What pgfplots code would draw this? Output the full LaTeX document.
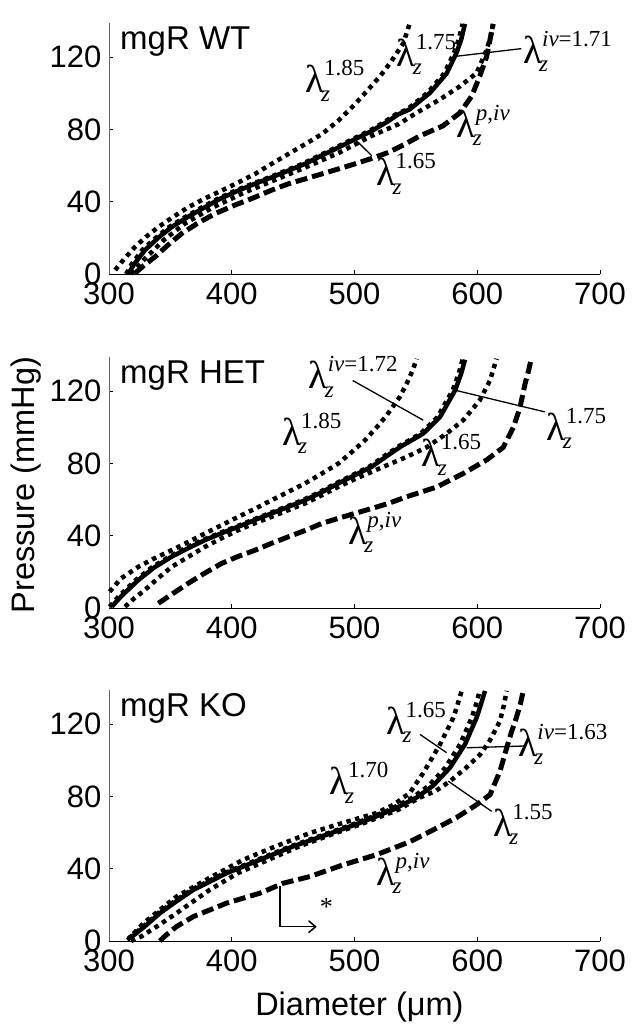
\documentclass[border=0pt]{standalone}
\usepackage{fontspec}
\setmainfont{Liberation Sans}
\newfontfamily\tnr{Liberation Serif}
\usepackage{pgfplots}
\pgfplotsset{compat=1.18}
\usetikzlibrary{arrows.meta}
\newcommand{\lz}[1]{{\tnr\fontsize{39}{39}\selectfont λ\kern-3pt\rlap{\raisebox{-8.5pt}{\fontsize{23}{23}\selectfont\itshape z}}\kern3pt\raisebox{17pt}{\fontsize{23}{23}\selectfont #1}}}
\tikzset{
  solidc/.style={black, line width=4.5pt, line join=round},
  dotc/.style={black, line width=4.5pt, dash pattern=on 4.5pt off 4.5pt},
  dashc/.style={black, line width=5pt, dash pattern=on 12pt off 5pt},
  ptr/.style={black, line width=1.3pt},
}
\pgfplotsset{
  panel/.style={
    scale only axis, width=491pt, height=251pt,
    xmin=300, xmax=700, ymin=0, ymax=139,
    axis lines=left, axis line style={-, line width=0.8pt},
    y axis line style={black!60},
    xtick={300,400,500,600,700}, ytick={0,40,80,120},
    tick align=inside, major tick length=4pt,
    tick style={black, line width=0.8pt},
    ticklabel style={font=\fontsize{31}{31}\selectfont},
    /pgf/number format/assume math mode=true,
    yticklabel style={xshift=-4pt},
    xticklabel style={yshift=-5.7pt},
    clip=false,
  },
}
\newcommand{\grp}[1]{\node[anchor=base west, inner sep=0pt, font=\fontsize{33}{33}\selectfont] at (axis cs:309,124.2) {#1};}
\begin{document}
\begin{tikzpicture}
\useasboundingbox (0,0) rectangle (638pt,1035pt);
% ---------------- WT ----------------
\begin{axis}[panel, at={(109pt,761pt)}, anchor=south west]
% lambda 1.85
\addplot[dotc] coordinates {(305,2.2) (312,8) (321.2,15) (330,20.5) (340.2,26) (352,31.5) (364.6,37) (378,41.8) (391.8,46.2) (405,50.6) (418.9,55.4) (432,60.8) (446,66.4) (460,72) (473.3,77.4) (487,85) (500.4,94) (511,102) (520.8,109.5) (529,116.8) (539.8,127.8) (545,138.8)};
% lambda 1.75
\addplot[dotc] coordinates {(314,0) (318,5) (327,13.2) (338,20) (349,26) (362,31.5) (376,37) (389,41.8) (403,46.2) (417,50) (430.5,53.5) (444,57.2) (457.7,61) (471,65.5) (484.8,70) (498,74.5) (512,79.2) (524,84) (533.7,88.4) (543,91.2) (559.5,100.3) (573,111) (581,122.3) (585,130) (588,138.5)};
% lambda 1.65
\addplot[dotc] coordinates {(318,0) (330,9) (345,19) (362,28) (385,37) (410,45) (435,52) (460,59) (487,67) (514,76.5) (536,83) (550.7,89.3) (569.7,96.7) (586,104) (599.5,111.3) (607.7,124.2) (611,132) (613,138.5)};
% lambda p,iv
\addplot[dashc] coordinates {(321.2,0.4) (328,4.5) (337.5,9.5) (348,16) (359.2,22.4) (372,28) (386.4,33.4) (402,38) (418.9,42.5) (432,46.3) (446,49.9) (460,52.7) (473.3,55.4) (487,58.2) (500.4,61) (514,64) (527.5,67.3) (541.1,71.9) (553.4,76.5) (572,82) (586,89.3) (595.5,98.5) (602,109.5) (607.7,120.5) (610.5,130) (613,138.5)};
% lambda iv=1.71
\addplot[solidc] coordinates {(315.7,0) (320,5) (329.3,13.2) (340,20) (351,26) (364,31.5) (378.2,37) (391,41.8) (405.3,46.2) (419,50) (432.5,53.5) (446,57.2) (459.7,61) (473,65.5) (486.8,70) (500,74.5) (514,79.2) (526,84) (535.7,88.4) (545,91.2) (561.5,100.3) (575,111) (583,122.3) (587,130) (590,138.5)};
\grp{mgR WT}
\draw[ptr] (axis cs:636,124.8) -- (axis cs:582,120.5);
\draw[ptr] (axis cs:514,65.5) -- (axis cs:501.8,73.7);
\node[anchor=base west, inner sep=0pt] at (axis cs:459.7,100.3) {\lz{1.85}};
\node[anchor=base west, inner sep=0pt] at (axis cs:534.4,115) {\lz{1.75}};
\node[anchor=base west, inner sep=0pt] at (axis cs:637.3,116.8) {\lz{{\itshape iv}=1.71}};
\node[anchor=base west, inner sep=0pt] at (axis cs:583.3,75.6) {\lz{{\itshape p},{\itshape iv}}};
\node[anchor=base west, inner sep=0pt] at (axis cs:518,49) {\lz{1.65}};
\end{axis}
% ---------------- HET ----------------
\begin{axis}[panel, at={(109pt,427pt)}, anchor=south west,
  ylabel={Pressure (mmHg)},
  ylabel style={at={(axis description cs:-0.168,0.49)}, rotate=0, anchor=center, font=\fontsize{32.5}{32.5}\selectfont}]
% lambda 1.85
\addplot[dotc] coordinates {(300.5,9) (310,16.5) (323.9,22.8) (337,27.5) (351,32) (365,36.7) (378.2,41.3) (392,46) (405.3,50.5) (419,55) (432.5,59.7) (446,64.3) (459.7,69) (473,74.3) (486.8,80) (498,86.5) (508.6,92.9) (518,100) (526,106.5) (537,117) (542.5,124.3) (547,131) (550.7,138)};
% lambda 1.75
\addplot[dotc] coordinates {(300.5,0.7) (308,6.5) (321.9,15.5) (335,22.5) (349,28.4) (363,33.3) (376.2,37.6) (390,41.5) (403.3,45) (417,48.8) (430.5,52.4) (444,56) (457.7,59.7) (471,64) (484.8,69) (498,73.5) (512,78.2) (524,84) (536,89.5) (554,96.6) (567.7,105.8) (580,120.6) (585,130) (588,137.5)};
% lambda 1.65
\addplot[dotc] coordinates {(313,0.7) (320,5) (329.3,10) (340,16.5) (351,22.8) (365,28.5) (378.2,33.9) (392,38.7) (405.3,43.1) (419,47) (432.5,50.5) (446,54.2) (459.7,57.9) (473,62.3) (486.8,67.1) (500,71.3) (514,75.4) (528,79.5) (542.5,83.7) (558.8,89) (575,96.6) (588.6,104) (602,115) (610.4,126) (613,132) (615.8,138)};
% lambda p,iv
\addplot[dashc] coordinates {(340.2,2.6) (352,8) (364.6,13.7) (378,19.3) (391.8,24.7) (405,28.5) (418.9,32) (432,35.7) (446,39.4) (460,43) (473.3,46.8) (487,49.7) (500.4,52.4) (514,55.1) (527.5,57.9) (542.5,61.6) (567,67) (588.6,74.5) (607.7,82) (621.2,89) (629.4,100) (634.8,111) (638.9,124) (642,132) (644,138)};
% lambda iv=1.72
\addplot[solidc] coordinates {(302.2,0.7) (310,6.5) (323.9,15.5) (337,22.5) (351,28.4) (365,33.3) (378.2,37.6) (392,41.5) (405.3,45) (419,48.8) (432.5,52.4) (446,56) (459.7,59.7) (473,64) (486.8,69) (500,73.5) (514,78.2) (526,84) (538,89.5) (556,96.6) (569.7,105.8) (582,120.6) (587,130) (590,137.5)};
\grp{mgR HET}
\draw[ptr] (axis cs:498.5,126) -- (axis cs:556,104);
\draw[ptr] (axis cs:655,108.6) -- (axis cs:582,120.6);
\node[anchor=base west, inner sep=0pt] at (axis cs:462.7,121.5) {\lz{{\itshape iv}=1.72}};
\node[anchor=base west, inner sep=0pt] at (axis cs:441,90.2) {\lz{1.85}};
\node[anchor=base west, inner sep=0pt] at (axis cs:656.6,92.9) {\lz{1.75}};
\node[anchor=base west, inner sep=0pt] at (axis cs:554.7,78.2) {\lz{1.65}};
\node[anchor=base west, inner sep=0pt] at (axis cs:495,35.3) {\lz{{\itshape p},{\itshape iv}}};
\end{axis}
% ---------------- KO ----------------
\begin{axis}[panel, at={(109pt,94pt)}, anchor=south west,
  xlabel={Diameter (μm)},
  xlabel style={at={(axis description cs:0.51,-0.264)}, anchor=center, font=\fontsize{32.5}{32.5}\selectfont}]
% lambda 1.70
\addplot[dotc] coordinates {(315,0.5) (328,9.8) (341,17) (355,24.6) (382,35) (409.4,45) (436,52.5) (463.7,59.8) (491,65.5) (518,70.9) (532,75.5) (545,82) (556,93) (569.7,108.9) (580.5,123.7) (584,131) (587.3,138.5)};
% lambda 1.65
\addplot[dotc] coordinates {(316,1.5) (328,8) (340,15.4) (353.5,22) (367,28.3) (394,37.6) (421,45) (448,52.4) (475,58.9) (502,65.4) (529,72.8) (547.5,79.5) (560.5,86) (574,96) (586,108.9) (595.5,123.7) (599,131) (602,138.5)};
% lambda 1.55
\addplot[dotc] coordinates {(318,0) (326,2.4) (340,8.5) (355,15.4) (382,28.3) (405,37.6) (430,45) (455,52.4) (481,58.9) (508,65.4) (536,72.8) (553,79.4) (566,83) (577.8,88.5) (591,96) (602,103) (610,110.7) (618.5,121.8) (621.5,130) (624,138.5)};
% lambda p,iv
\addplot[dashc] coordinates {(341.5,0) (345,2.4) (355,8) (368.7,13.5) (395.9,21) (423,26.5) (442,32) (463.7,35.7) (490.9,42.2) (518,47.8) (545.2,55) (564,61.5) (583,68.3) (599.5,75.5) (610.4,81) (618.5,94) (624,107) (628,116) (632,124) (635,131) (637.5,138.5)};
% lambda iv=1.63
\addplot[solidc] coordinates {(317,1.5) (329,8) (341.5,15.4) (355,22) (368.7,28.3) (395.9,37.6) (423,45) (450,52.4) (477.4,58.9) (504.5,65.4) (531.6,72.8) (550.7,79.5) (564,86) (577.8,96) (590,108.9) (599.5,123.7) (603,131) (606.3,138.5)};
\grp{mgR KO}
\draw[ptr] (axis cs:553.4,114.4) -- (axis cs:575,104.3);
\draw[ptr] (axis cs:639,108) -- (axis cs:591.4,107);
\draw[ptr] (axis cs:611.7,71.8) -- (axis cs:576.4,88.5);
\draw[black, line width=1.5pt, -{Straight Barb[length=7pt,width=12pt]}] (axis cs:439.3,30.2) -- (axis cs:439.3,7.9) -- (axis cs:469.2,7.9);
\node[inner sep=0pt, font=\tnr\fontsize{26}{26}\selectfont] at (axis cs:477,19) {*};
\node[anchor=base west, inner sep=0pt] at (axis cs:526,114.4) {\lz{1.65}};
\node[anchor=base west, inner sep=0pt] at (axis cs:633.5,102.4) {\lz{{\itshape iv}=1.63}};
\node[anchor=base west, inner sep=0pt] at (axis cs:479.3,81.1) {\lz{1.70}};
\node[anchor=base west, inner sep=0pt] at (axis cs:613,57.9) {\lz{1.55}};
\node[anchor=base west, inner sep=0pt] at (axis cs:518,31) {\lz{{\itshape p},{\itshape iv}}};
\end{axis}
\end{tikzpicture}
\end{document}
